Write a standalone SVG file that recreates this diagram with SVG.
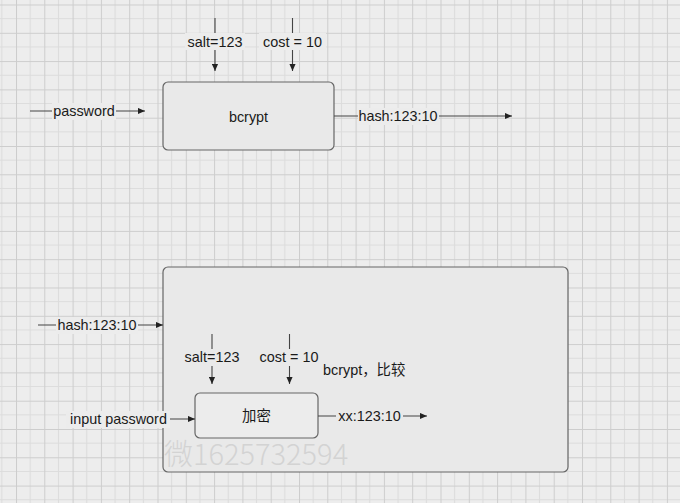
<svg xmlns="http://www.w3.org/2000/svg" width="680" height="503" viewBox="0 0 680 503">
<style>
  .t { font-family: "Liberation Sans", "Noto Sans CJK SC", Arial, sans-serif; font-size: 14.4px; fill: #1a1a1a; }
  .c { text-anchor: middle; dominant-baseline: central; }
  .ln { stroke: #444; stroke-width: 1.1; fill: none; }
  .box { fill: #e9e9e9; stroke: #666; stroke-width: 1.2; }
  .bg { fill: #ececec; }
  .wm { font-family: "Noto Sans CJK SC", "Liberation Sans", sans-serif; font-size: 29px; font-weight: 300; fill: #d3d3d3; }
</style>
<defs>
  <pattern id="grid" patternUnits="userSpaceOnUse" x="16" y="4.5" width="28.3" height="28.3">
    <rect width="28.3" height="28.3" fill="#ededed"/>
    <path d="M14.15 0V28.3M0 14.15H28.3" stroke="#dcdcdc" stroke-width="1"/>
    <path d="M0.5 0V28.3M0 0.5H28.3" stroke="#cdcdcd" stroke-width="1"/>
  </pattern>
  <marker id="ah" viewBox="0 0 8 8" refX="8" refY="4" markerWidth="7" markerHeight="7" markerUnits="userSpaceOnUse" orient="auto">
    <path d="M0 0.5L8 4L0 7.5Z" fill="#222"/>
  </marker>
</defs>
<rect width="680" height="503" fill="url(#grid)"/>

<g id="node-bcrypt">
  <rect class="box" x="163" y="82" width="171" height="68" rx="5"/>
  <text class="t c" x="248.5" y="117">bcrypt</text>
</g>

<g id="node-compare">
  <rect class="box" x="163" y="267" width="405" height="205" rx="5"/>
  <text class="t" x="323" y="370" dominant-baseline="central">bcrypt，比较</text>
</g>

<g id="node-encrypt">
  <rect class="box" x="195" y="393" width="123" height="45" rx="5" style="fill:#ececec"/>
  <text class="t c" x="256.5" y="416">加密</text>
</g>

<g id="watermark">
  <text class="wm" x="164" y="465">微1625732594</text>
</g>

<g id="connectors">
  <line class="ln" x1="215" y1="18" x2="215" y2="71" marker-end="url(#ah)"/>
  <line class="ln" x1="292.5" y1="18" x2="292.5" y2="71" marker-end="url(#ah)"/>
  <line class="ln" x1="30" y1="111" x2="145" y2="111" marker-end="url(#ah)"/>
  <line class="ln" x1="334" y1="116" x2="512" y2="116" marker-end="url(#ah)"/>
  <line class="ln" x1="38" y1="325" x2="163" y2="325" marker-end="url(#ah)"/>
  <line class="ln" x1="212" y1="334" x2="212" y2="384" marker-end="url(#ah)"/>
  <line class="ln" x1="289.5" y1="334" x2="289.5" y2="384" marker-end="url(#ah)"/>
  <line class="ln" x1="70" y1="419" x2="195" y2="419" marker-end="url(#ah)"/>
  <line class="ln" x1="318" y1="416" x2="427" y2="416" marker-end="url(#ah)"/>

  <rect class="bg" x="185" y="33" width="60" height="17"/>
  <text class="t c" x="215" y="41.5">salt=123</text>
  <rect class="bg" x="259" y="33" width="67" height="17"/>
  <text class="t c" x="292.5" y="41.5">cost = 10</text>
  <rect class="bg" x="52" y="103" width="64" height="17"/>
  <text class="t c" x="84" y="111">password</text>
  <rect class="bg" x="358" y="108" width="81" height="17"/>
  <text class="t c" x="398" y="116">hash:123:10</text>
  <rect class="bg" x="56" y="317" width="82" height="17"/>
  <text class="t c" x="97" y="325">hash:123:10</text>
  <rect class="box" x="182" y="349" width="60" height="17" style="stroke:none"/>
  <text class="t c" x="212" y="357">salt=123</text>
  <rect class="box" x="256" y="349" width="67" height="17" style="stroke:none"/>
  <text class="t c" x="289" y="357">cost = 10</text>
  <rect class="bg" x="66" y="411" width="104" height="17"/>
  <text class="t c" x="118.5" y="419">input password</text>
  <rect class="box" x="336" y="408" width="67" height="17" style="stroke:none"/>
  <text class="t c" x="369.5" y="416">xx:123:10</text>
</g>
</svg>
